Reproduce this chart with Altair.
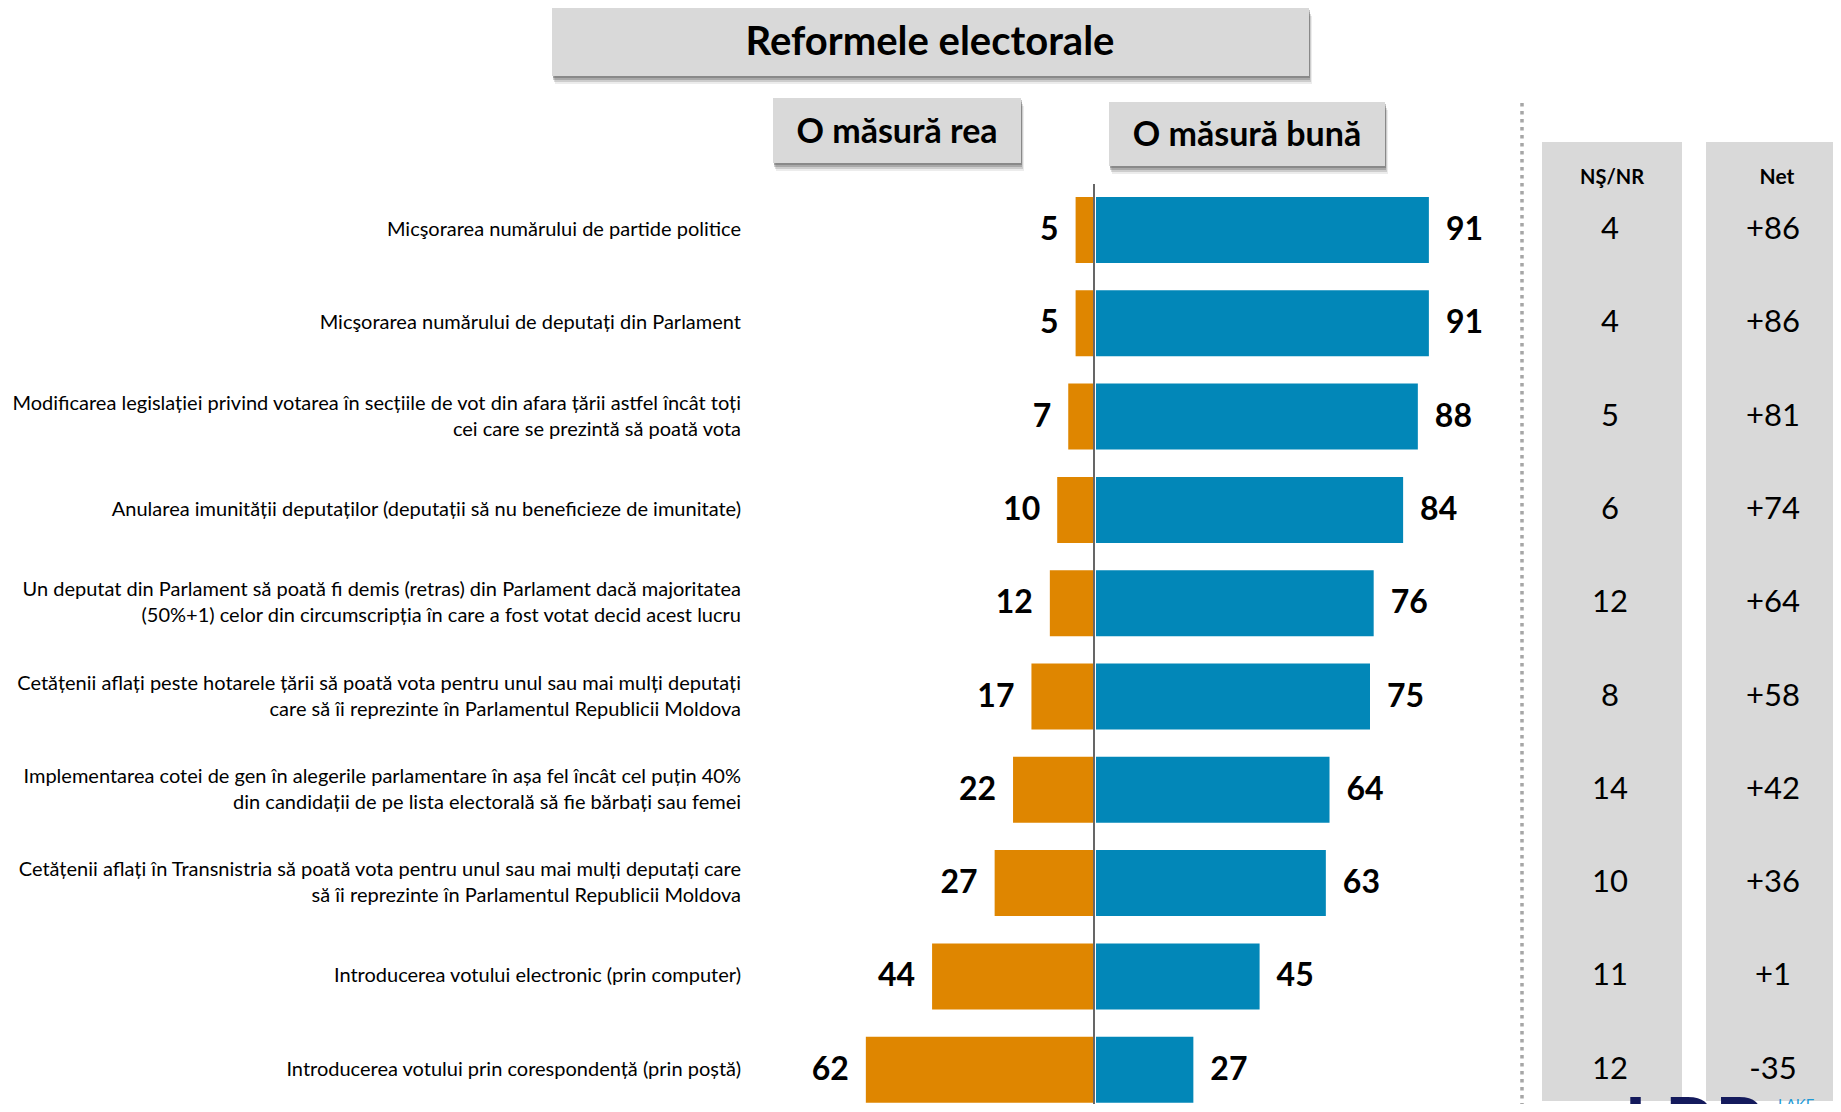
import altair as alt
import pandas as pd

# ---------------- data ----------------
labels = [
    "Micşorarea numărului de partide politice",
    "Micşorarea numărului de deputați din Parlament",
    "Modificarea legislației privind votarea în secțiile de vot din afara țării astfel încât toți\ncei care se prezintă să poată vota",
    "Anularea imunității deputaților (deputații să nu beneficieze de imunitate)",
    "Un deputat din Parlament să poată fi demis (retras) din Parlament dacă majoritatea\n(50%+1) celor din circumscripția în care a fost votat decid acest lucru",
    "Cetățenii aflați peste hotarele țării să poată vota pentru unul sau mai mulți deputați\ncare să îi reprezinte în Parlamentul Republicii Moldova",
    "Implementarea cotei de gen în alegerile parlamentare în așa fel încât cel puțin 40%\ndin candidații de pe lista electorală să fie bărbați sau femei",
    "Cetățenii aflați în Transnistria să poată vota pentru unul sau mai mulți deputați care\nsă îi reprezinte în Parlamentul Republicii Moldova",
    "Introducerea votului electronic (prin computer)",
    "Introducerea votului prin corespondență (prin poștă)",
]
bad = [5, 5, 7, 10, 12, 17, 22, 27, 44, 62]
good = [91, 91, 88, 84, 76, 75, 64, 63, 45, 27]
nsnr = [4, 4, 5, 6, 12, 8, 14, 10, 11, 12]
net = ["+86", "+86", "+81", "+74", "+64", "+58", "+42", "+36", "+1", "-35"]

title_text = "Reformele electorale"
hdr_bad = "O măsură rea"
hdr_good = "O măsură bună"
col1_hdr = "NŞ/NR"
col2_hdr = "Net"

ids = [f"r{i}" for i in range(len(labels))]
df = pd.DataFrame({
    "id": ids, "label": labels, "bad": bad, "good": good,
    "nsnr": nsnr, "net": net,
})
df["bad_neg"] = -df["bad"]
df["zero"] = 0
df["lines"] = [s.count("\n") + 1 for s in labels]

one = pd.DataFrame({"z": [0]})

# ---------------- style ----------------
FONT = "Lato"
ORANGE = "#DF8600"
BLUE = "#0287B8"
GREY = "#D9D9D9"
W, H = 1825, 1096
LH = 26

xsc = alt.Scale(domain=[-100, 100], range=[1086 - 368, 1086 + 368])
ysc = alt.Scale(domain=ids, range=[175.35, 1108.35], paddingInner=0.293, paddingOuter=0.1465)
Y = alt.Y("id:N", scale=ysc, axis=None)

base = alt.Chart(df)


def box(x1, y1, x2, y2, shadow=True):
    layers = []
    if shadow:
        for dx, dy, op in [(3, 8, 0.10), (2, 6, 0.18), (1, 4, 0.25), (1, 2, 0.30)]:
            layers.append(
                alt.Chart(one).mark_rect(color="#404040", opacity=op).encode(
                    x=alt.value(x1 + dx), x2=alt.value(x2 + dx),
                    y=alt.value(y1 + dy), y2=alt.value(y2 + dy))
            )
    layers.append(
        alt.Chart(one).mark_rect(color=GREY).encode(
            x=alt.value(x1), x2=alt.value(x2), y=alt.value(y1), y2=alt.value(y2))
    )
    return layers


def label(text, x, y, size, weight="normal", color="black", align="center", baseline="middle"):
    return alt.Chart(one).mark_text(
        text=text, font=FONT, fontSize=size, fontWeight=weight, color=color,
        align=align, baseline=baseline,
    ).encode(x=alt.value(x), y=alt.value(y))


layers = []
# grey side columns
layers += box(1534, 134, 1674, 1093, shadow=False)
layers += box(1698, 134, W, 1093, shadow=False)
# title and header boxes
layers += box(544, 0, 1301, 68)
layers += box(765, 90, 1013, 155)
layers += box(1101, 94, 1377, 158)

layers.append(label(title_text, 922, 35, 40, "bold"))
layers.append(label(hdr_bad, 889, 125, 34, "bold"))
layers.append(label(hdr_good, 1239, 128, 34, "bold"))
layers.append(label(col1_hdr, 1604, 170, 20, "bold"))
layers.append(label(col2_hdr, 1769, 170, 21, "bold"))

# dotted separator
layers.append(
    alt.Chart(one).mark_rule(color="#A6A6A6", strokeWidth=3.5, strokeDash=[3.5, 4.5]).encode(
        x=alt.value(1514), y=alt.value(95), y2=alt.value(H))
)

# bars
layers.append(
    base.mark_bar(color=ORANGE, x2Offset=-1).encode(
        x=alt.X("bad_neg:Q", scale=xsc, axis=None), x2="zero:Q", y=Y)
)
layers.append(
    base.mark_bar(color=BLUE, xOffset=2).encode(
        x=alt.X("zero:Q", scale=xsc, axis=None), x2="good:Q", y=Y)
)
# zero line
layers.append(
    alt.Chart(one).mark_rule(color="black", strokeWidth=1.2).encode(
        x=alt.X("z:Q", scale=xsc, axis=None), y=alt.value(176), y2=alt.value(H))
)

# value labels
layers.append(
    base.mark_text(align="right", baseline="middle", dx=-17, font=FONT, fontSize=32,
                   fontWeight="bold", color="black").encode(
        x=alt.X("bad_neg:Q", scale=xsc, axis=None), y=Y, text="bad:Q")
)
layers.append(
    base.mark_text(align="left", baseline="middle", dx=17, font=FONT, fontSize=32,
                   fontWeight="bold", color="black").encode(
        x=alt.X("good:Q", scale=xsc, axis=None), y=Y, text="good:Q")
)

# category labels (one-line and two-line, the latter centred as a block)
layers.append(
    base.transform_filter("datum.lines == 1").mark_text(
        align="right", baseline="middle", font=FONT, fontSize=20, color="black").encode(
        x=alt.value(733), y=Y, text="label:N")
)
layers.append(
    base.transform_filter("datum.lines == 2").mark_text(
        align="right", baseline="middle", lineBreak="\n", lineHeight=LH, dy=-LH / 2,
        font=FONT, fontSize=20, color="black").encode(
        x=alt.value(733), y=Y, text="label:N")
)

# side columns values
layers.append(
    base.mark_text(align="center", baseline="middle", font=FONT, fontSize=31, color="black").encode(
        x=alt.value(1602), y=Y, text="nsnr:Q")
)
layers.append(
    base.mark_text(align="center", baseline="middle", font=FONT, fontSize=31, color="black").encode(
        x=alt.value(1765), y=Y, text="net:N")
)

# logo fragment at the bottom
layers.append(label("LRP", 1616, 1084, 78, "bold", "#141A5C", "left", "top"))
layers.append(label("LAKE", 1770, 1090, 15, "normal", "#1E9AD6", "left", "top"))

chart = alt.layer(*layers).properties(
    width=W, height=H,
    autosize=alt.AutoSizeParams(type="none"),
    padding=0,
    background="white",
).configure_view(stroke=None)

chart.save("out.html", embed_options={"renderer": "svg", "actions": False})
